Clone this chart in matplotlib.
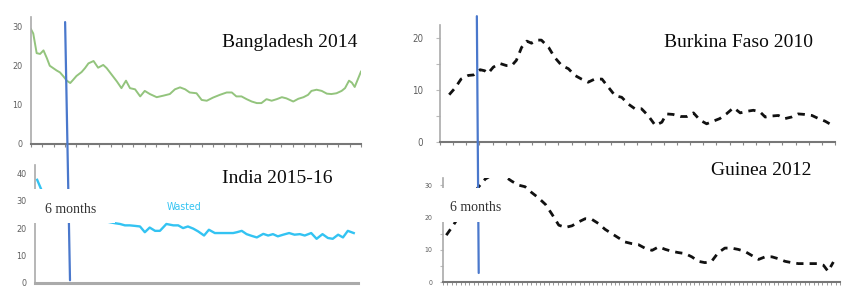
import matplotlib.pyplot as plt
from matplotlib.patches import ConnectionPatch, Rectangle

# ages in months, prevalence (%)
bgd_age = [0, 0.4, 1.0, 1.6, 2.2, 2.8, 3.3, 3.9, 4.5, 5.1, 5.7, 6.3, 6.9, 7.4, 8.0, 8.9,
           9.5, 10.1, 11.0, 11.8, 12.7, 13.3, 14.2, 15.1, 15.9, 16.7, 17.4, 18.3, 19.2,
           20.0, 20.9, 22.1, 23.3, 24.4, 25.3, 26.2, 27.1, 27.9, 29.1, 30.0, 30.9, 32.0,
           33.2, 34.4, 35.3, 36.1, 37.0, 37.9, 38.8, 39.7, 40.5, 41.4, 42.3, 43.2, 44.1,
           44.9, 45.5, 46.1, 47.0, 47.9, 48.7, 49.3, 50.2, 51.1, 52.0, 52.8, 53.7, 54.6,
           55.2, 55.9, 56.4, 56.9, 58.0]
bgd_val = [29.2, 28.1, 23.1, 22.9, 23.8, 21.8, 19.9, 19.3, 18.7, 18.2, 17.2, 16.1, 15.5,
           16.3, 17.3, 18.3, 19.3, 20.5, 21.1, 19.4, 20.1, 19.3, 17.6, 15.9, 14.2, 16.1,
           14.2, 13.9, 12.1, 13.5, 12.7, 11.9, 12.3, 12.7, 13.9, 14.4, 13.9, 13.1, 12.9,
           11.2, 11.0, 11.8, 12.5, 13.1, 13.1, 12.1, 12.1, 11.4, 10.8, 10.4, 10.4, 11.4,
           11.0, 11.4, 11.9, 11.6, 11.2, 10.8, 11.5, 11.9, 12.5, 13.5, 13.8, 13.5, 12.8,
           12.7, 12.9, 13.5, 14.2, 16.1, 15.6, 14.5, 18.4]

ind_age = [0.4, 1.2, 2.0, 3.0, 5.0, 8.0, 11.0, 13.0, 14.8, 15.8, 16.7, 17.6, 18.6, 19.5,
           20.4, 21.3, 22.3, 23.2, 24.4, 25.7, 26.6, 27.5, 28.4, 29.4, 30.3, 31.4, 32.3,
           33.4, 34.3, 35.6, 36.8, 37.5, 38.4, 39.3, 40.2, 41.2, 42.4, 43.3, 44.2, 45.1,
           46.1, 47.2, 48.2, 49.2, 50.1, 51.3, 52.3, 53.4, 54.4, 55.3, 56.3, 57.2, 58.1,
           59.2]
ind_val = [37.6, 33.9, 31.5, 29.0, 27.0, 25.0, 23.5, 22.5, 21.8, 21.5, 21.0, 21.0, 20.8,
           20.6, 18.5, 20.2, 19.0, 19.0, 21.5, 21.0, 21.0, 20.0, 20.6, 19.8, 18.8, 17.3,
           19.4, 18.2, 18.2, 18.2, 18.2, 18.5, 19.0, 17.8, 17.2, 16.6, 17.9, 17.3, 17.8,
           17.0, 17.6, 18.2, 17.6, 17.8, 17.3, 18.2, 16.1, 17.8, 16.4, 16.1, 17.6, 16.6,
           19.0, 18.2]

bfa_age = [1.4, 2.3, 3.2, 4.3, 5.1, 6.1, 6.8, 7.3, 8.1, 9.1, 10.1, 10.9, 11.6, 12.4, 13.2,
           13.9, 14.7, 15.4, 16.5, 17.4, 18.5, 19.5, 20.5, 21.5, 22.5, 23.5, 24.6, 25.6,
           26.6, 27.6, 28.6, 29.6, 30.6, 31.6, 32.7, 33.7, 34.4, 35.4, 36.5, 37.5, 38.5,
           39.5, 40.5, 41.5, 42.5, 43.5, 44.6, 45.6, 46.6, 47.6, 48.6, 49.4, 50.4, 51.4,
           52.4, 53.4, 54.4, 55.4, 56.5, 57.5, 58.5, 59.6]
bfa_val = [9.1, 10.4, 12.1, 12.8, 12.9, 13.9, 13.7, 13.2, 14.4, 15.1, 14.7, 14.7, 15.7,
           18.2, 19.4, 19.0, 19.6, 19.6, 18.2, 16.3, 14.7, 14.1, 12.8, 12.1, 11.5, 12.1,
           12.1, 10.5, 8.9, 8.6, 7.3, 6.4, 6.4, 5.1, 3.2, 3.8, 5.4, 5.3, 4.9, 4.9, 5.6,
           4.2, 3.5, 4.0, 4.5, 5.4, 6.6, 5.6, 5.9, 6.1, 5.8, 4.8, 5.0, 5.1, 4.5, 4.8, 5.4,
           5.3, 5.1, 4.5, 4.0, 3.2]

gin_age = [0.5, 1.4, 2.5, 3.5, 4.7, 5.4, 6.4, 7.4, 8.4, 9.4, 10.4, 11.4, 12.4, 13.4, 14.4,
           15.5, 16.5, 17.5, 18.5, 19.5, 20.5, 21.5, 22.5, 23.5, 24.5, 25.5, 26.5, 27.5,
           28.5, 29.5, 30.5, 31.6, 32.6, 33.6, 34.6, 35.6, 36.6, 37.6, 38.6, 39.6, 40.6,
           41.6, 42.6, 43.6, 44.6, 45.6, 46.6, 47.7, 48.7, 49.7, 50.7, 51.7, 52.7, 53.7,
           54.7, 55.7, 56.7, 57.5, 58.2, 59.0]
gin_val = [14.5, 17.1, 20.5, 24.0, 27.7, 29.5, 31.9, 33.1, 33.4, 32.6, 31.2, 30.0, 29.5,
           27.7, 26.1, 24.0, 20.9, 17.6, 16.9, 17.4, 18.6, 19.6, 19.4, 18.1, 16.3, 15.0,
           13.7, 12.4, 11.9, 11.6, 10.5, 9.8, 10.9, 10.1, 9.5, 9.1, 8.8, 7.8, 6.4, 6.0,
           6.4, 9.1, 10.5, 10.5, 10.1, 9.5, 8.3, 7.0, 7.8, 7.8, 7.2, 6.4, 6.0, 5.7, 5.7,
           5.7, 5.7, 5.2, 3.3, 6.2]

serif = "Liberation Serif"
tick_gray = "#5f5f5f"

fig = plt.figure(figsize=(8.58, 3.07), dpi=100)
ax_bgd = fig.add_axes([0.0361, 0.531, 0.3846, 0.4137])
ax_ind = fig.add_axes([0.0408, 0.0782, 0.3765, 0.3844])
ax_bfa = fig.add_axes([0.5128, 0.5375, 0.4604, 0.381])
ax_gin = fig.add_axes([0.5163, 0.0814, 0.4627, 0.3388])

ax_bgd.plot(bgd_age, bgd_val, color="#93c47d", lw=1.4)
ax_ind.plot(ind_age, ind_val, color="#33c3f2", lw=1.7)
ax_bfa.plot(bfa_age, bfa_val, color="#111111", lw=2, dashes=(2.6, 2.2))
ax_gin.plot(gin_age, gin_val, color="#111111", lw=2, dashes=(2.6, 2.2))

for ax in [ax_bgd, ax_ind, ax_bfa, ax_gin]:
    ax.spines["top"].set_visible(False)
    ax.spines["right"].set_visible(False)
    ax.spines["left"].set_color("#aaaaaa")
    ax.spines["left"].set_linewidth(1.2)
    ax.spines["bottom"].set_color("#777777")
    ax.spines["bottom"].set_linewidth(1.5)
    ax.tick_params(axis="y", colors="#bbbbbb", labelcolor=tick_gray, labelsize=6.5, length=0)
    ax.tick_params(axis="x", colors="#888888", length=2.5, width=0.8, labelbottom=False)
    for lbl in ax.get_yticklabels():
        lbl.set_fontstretch("condensed")

ax_bgd.set_xlim(0, 58)
ax_bgd.set_ylim(0, 32.3)
ax_bgd.set_xticks(range(0, 59, 2))
ax_bgd.set_yticks([0, 10, 20, 30])
ax_bgd.tick_params(axis="y", pad=6)

ax_ind.set_xlim(0, 60)
ax_ind.set_ylim(0, 43)
ax_ind.set_xticks([])
ax_ind.set_yticks([0, 10, 20, 30, 40])
ax_ind.tick_params(axis="y", pad=6)
ax_ind.spines["bottom"].set_color("#aaaaaa")
ax_ind.spines["bottom"].set_linewidth(2.2)
ax_ind.text(24.5, 27.6, "Wasted", color="#33c3f2", fontsize=7.5,
            family=["Liberation Sans Narrow", "DejaVu Sans"], fontstretch="condensed",
            va="center")

ax_bfa.set_xlim(0, 60)
ax_bfa.set_ylim(0, 22.5)
ax_bfa.set_xticks(range(0, 61, 2))
ax_bfa.set_yticks([0, 5, 10, 15, 20])
ax_bfa.set_yticklabels(["0", "", "10", "", "20"])
ax_bfa.tick_params(axis="y", length=3, pad=9, labelsize=7)

ax_gin.set_xlim(0, 60)
ax_gin.set_ylim(0, 32.2)
ax_gin.set_xticks([i * 60 / 90 for i in range(91)])
ax_gin.tick_params(axis="x", length=2, width=0.6)
ax_gin.set_yticks([0, 5, 10, 15, 20, 25, 30])
ax_gin.set_yticklabels(["0", "", "10", "", "20", "", "30"])
ax_gin.tick_params(axis="y", length=2.5, pad=5, labelsize=5)

# panel titles
title_kw = dict(family=serif, fontsize=14, ha="right", va="center", color="#0a0a0a")
fig.text(0.416, 0.86, "Bangladesh 2014", **title_kw)
fig.text(0.9476, 0.86, "Burkina Faso 2010", **title_kw)
fig.text(0.388, 0.42, "India 2015-16", **title_kw)
fig.text(0.946, 0.446, "Guinea 2012", **title_kw)

# 6-month markers running through both panels of a column
blue = "#4a78cc"
for top_ax, top_pt, bot_ax, bot_pt in [(ax_bgd, (6.0, 31.0), ax_ind, (6.5, 1.0)),
                                        (ax_bfa, (5.6, 24.2), ax_gin, (5.4, 2.8))]:
    con = ConnectionPatch(xyA=top_pt, coordsA=top_ax.transData,
                          xyB=bot_pt, coordsB=bot_ax.transData,
                          color=blue, lw=1.6, zorder=5)
    fig.add_artist(con)

# white label boxes with "6 months"
for box, txt_xy in [((0.0385, 0.2736), (0.052, 0.316)), ((0.5105, 0.2769), (0.5245, 0.3225))]:
    fig.add_artist(Rectangle(box, 0.095, 0.112, transform=fig.transFigure,
                             facecolor="white", edgecolor="none", zorder=10))
    fig.text(txt_xy[0], txt_xy[1], "6 months", family=serif, fontsize=10,
             color="#333333", va="center", zorder=11)

fig.savefig("out.png", dpi=100)
